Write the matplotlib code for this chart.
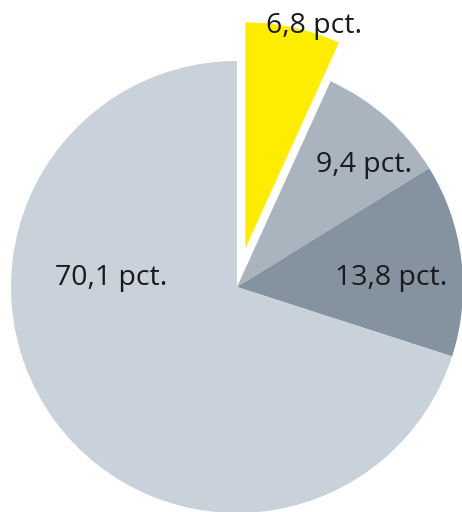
import matplotlib.pyplot as plt

# shares in percent, clockwise from 12 o'clock
labels = ["6,8 pct.", "9,4 pct.", "13,8 pct.", "70,1 pct."]
shares = [6.8, 9.4, 13.8, 70.1]
colors = ["#ffed00", "#a9b4bf", "#84939f", "#c9d2db"]
explode = [0.175, 0, 0, 0]

# label anchor points (centre x, baseline y) in pie-radius units
label_xy = [(0.341, 1.124), (0.562, 0.509), (0.681, 0.009), (-0.558, 0.009)]

fig = plt.figure(figsize=(4.62, 5.12), dpi=100)
ax = fig.add_axes([0, 0, 1, 1])

ax.pie(
    shares,
    colors=colors,
    explode=explode,
    startangle=90,
    counterclock=False,
    radius=1.0,
    wedgeprops={"linewidth": 0},
)

for (x, y), txt in zip(label_xy, labels):
    ax.text(x, y, txt, ha="center", va="baseline", fontsize=20.5,
            family="Open Sans", color="#1a1a1a")

# pie centre sits at (237, 287) px from top-left, radius 226 px
r_px = 226
ax.set_xlim(-237 / r_px, (462 - 237) / r_px)
ax.set_ylim(-(512 - 287) / r_px, 287 / r_px)
ax.set_aspect("auto")
ax.axis("off")

fig.savefig("out.png", dpi=100)
